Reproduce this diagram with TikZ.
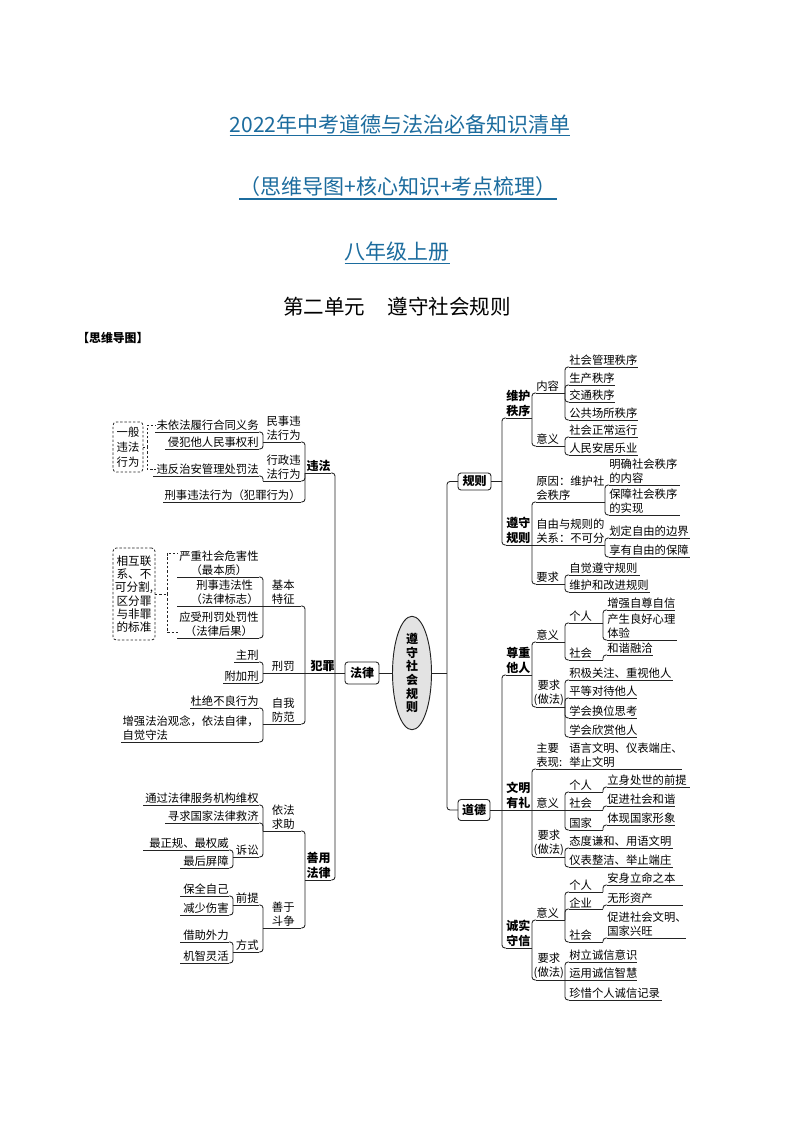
\documentclass[tikz,border=0pt]{standalone}
\usepackage{fontspec}
\setmainfont{Noto Sans CJK SC}
\usetikzlibrary{shapes.geometric}
\definecolor{tblue}{RGB}{28,108,158}
\definecolor{lc}{RGB}{35,35,35}
\newcommand\TopL[6][]{%
  \coordinate (#2-a) at (#3,#5);
  \coordinate (#2-b) at (#4,#5);
  \node[topic,anchor=south east,align=right,#1] (#2) at (#2-b) {#6};
  \draw[ul] (#2-a) -- (#2-b);}
\newcommand\TopR[6][]{%
  \coordinate (#2-a) at (#3,#5);
  \coordinate (#2-b) at (#4,#5);
  \node[topic,anchor=south west,align=left,#1] (#2) at (#2-a) {#6};
  \draw[ul] (#2-a) -- (#2-b);}
\newcommand\ConL[2]{\draw[conn] (#1-a) |- (#2-b);}
\newcommand\ConLs[2]{\draw[conn] (#1-a) -- (#2-b);}
\newcommand\ConR[2]{\draw[conn] (#1-b) |- (#2-a);}
\newcommand\ConRs[2]{\draw[conn] (#1-b) -- (#2-a);}
\tikzset{
  topic/.style={inner xsep=0.3pt, inner ysep=1pt, outer sep=0pt, text=black, font=\fontsize{8.5}{10.5}\selectfont},
  bl/.style={font=\fontsize{9}{11}\selectfont\bfseries},
  ul/.style={draw=lc, line width=0.65pt},
  conn/.style={draw=lc, line width=0.65pt, rounded corners=2.25pt},
  boxn/.style={draw=lc, line width=0.65pt, rounded corners=2.25pt, inner sep=0pt, outer sep=0pt, font=\fontsize{9}{11}\selectfont\bfseries},
  dbox/.style={draw=lc, dash pattern=on 1.8pt off 1.4pt, line width=0.6pt, rounded corners=2.5pt, inner sep=0pt, outer sep=0pt, align=center},
  dconn/.style={draw=lc, dash pattern=on 1.8pt off 1.4pt, line width=0.6pt},
  ttl/.style={inner sep=0pt, outer sep=0pt, text=tblue, font=\fontsize{15.75}{18}\selectfont},
  tul/.style={draw=tblue, line width=1pt}
}
\begin{document}
\begin{tikzpicture}[x=0.75pt,y=-0.75pt]
\useasboundingbox (0,0) rectangle (794,1123);
\fill[white] (0,0) rectangle (794,1123);

% titles
\node[ttl] (t1) at (400,124) {2022年中考道德与法治必备知识清单};
\draw[tul] ([yshift=-1.4pt]t1.south west) -- ([yshift=-1.4pt]t1.south east);
\node[ttl] (t2) at (398,187) {（思维导图+核心知识+考点梳理）};
\draw[tul] ([yshift=-1.4pt]t2.south west) -- ([yshift=-1.4pt]t2.south east);
\node[ttl] (t3) at (397,252) {八年级上册};
\draw[tul] ([yshift=-1.4pt]t3.south west) -- ([yshift=-1.4pt]t3.south east);
\node[inner sep=0pt, font=\fontsize{15.4}{18}\selectfont] (unit) at (397,307) {第二单元\hspace*{1.1em}遵守社会规则};
\node[inner sep=0pt, anchor=west, font=\fontsize{8.9}{10}\selectfont\bfseries] (mm) at (77,338) {【思维导图】};

% centre
\node[ellipse, draw=lc, line width=0.7pt, fill=black!11, minimum width=29.25pt, minimum height=81pt, inner sep=0pt, align=center, font=\fontsize{9}{10.3}\selectfont\bfseries] (ctr) at (412,673) {遵\\守\\社\\会\\规\\则};
\node[boxn, minimum width=25.5pt, minimum height=16.5pt] (falv) at (362,673) {法律};
\node[boxn, minimum width=24.75pt, minimum height=12.75pt] (guize) at (474.5,481.5) {规则};
\node[boxn, minimum width=24pt, minimum height=15.75pt] (daode) at (474,810) {道德};
\draw[conn] (falv.east) -- (ctr.west);
\coordinate (rtr) at (447,673);
\draw[conn] (ctr.east) -- (rtr);
\draw[conn] (rtr) |- (guize.west);
\draw[conn] (rtr) |- (daode.west);

% ---------- left: 违法 ----------
\TopL[bl]{weifa}{305}{331}{473}{违法}
\TopL[align=center]{minshi}{263}{301}{442}{民事违\\法行为}
\TopL[align=center]{xingzheng}{263}{301}{481}{行政违\\法行为}
\TopL{xingshi}{163}{301}{502}{刑事违法行为（犯罪行为）}
\TopL{weiyi}{155}{259}{432}{未依法履行合同义务}
\TopL{qinfan}{165}{259}{449}{侵犯他人民事权利}
\TopL{weifan}{153}{259}{476}{违反治安管理处罚法}
\ConL{weifa}{minshi}\ConL{weifa}{xingzheng}\ConL{weifa}{xingshi}
\ConL{minshi}{weiyi}\ConL{minshi}{qinfan}\ConL{xingzheng}{weifan}
\node[dbox, minimum width=22.5pt, minimum height=37.5pt, font=\fontsize{8.5}{11.4}\selectfont] (box1) at (128,447) {一般\\违法\\行为};
\coordinate (d1) at (147,447);
\draw[dconn] (box1.east) -- (d1);
\draw[dconn] (d1) |- (weiyi.west);
\draw[dconn] (d1) |- (weifan.west);

% ---------- left: 犯罪 ----------
\TopL[bl]{fanzui}{305}{335}{673}{犯罪}
\TopL[align=center,xshift=-4.5pt]{jiben}{263}{301}{606}{基本\\特征}
\TopL[xshift=-4.5pt]{xingfa}{263}{301}{673}{刑罚}
\TopL[align=center,xshift=-4.5pt]{ziwo}{263}{301}{724}{自我\\防范}
\TopL[align=center]{yanzhong}{177}{259}{577}{严重社会危害性\\（最本质）}
\TopL[align=center]{xsx}{177}{259}{606}{刑事违法性\\（法律标志）}
\TopL[align=center]{yingshou}{177}{259}{638}{应受刑罚处罚性\\（法律后果）}
\TopL{zhuxing}{234}{259}{662}{主刑}
\TopL{fujia}{223}{259}{683}{附加刑}
\TopL{dujue}{190}{259}{708}{杜绝不良行为}
\TopL[align=left]{zengq}{121}{259}{742}{增强法治观念，依法自律，\\自觉守法}
\ConL{fanzui}{jiben}\ConLs{fanzui}{xingfa}\ConL{fanzui}{ziwo}
\ConL{jiben}{yanzhong}\ConLs{jiben}{xsx}\ConL{jiben}{yingshou}
\ConL{xingfa}{zhuxing}\ConL{xingfa}{fujia}
\ConL{ziwo}{dujue}\ConL{ziwo}{zengq}
\node[dbox, minimum width=31.5pt, minimum height=69pt, font=\fontsize{8.7}{10}\selectfont] (box2) at (134,594) {相互联\\系、不\\可分割,\\区分罪\\与非罪\\的标准};
\coordinate (d2) at (167,594);
\coordinate (d2a) at (178,553);
\coordinate (d2b) at (178,632);
\draw[dconn] (box2.east) -- (d2);
\draw[dconn] (d2) |- (d2a);
\draw[dconn] (d2) |- (d2b);

% ---------- left: 善用法律 ----------
\TopL[bl,align=center]{shanyong}{305}{331}{880}{善用\\法律}
\TopL[align=center,xshift=-4.5pt]{yifa}{263}{301}{831}{依法\\求助}
\TopL[align=center,xshift=-4.5pt]{shanyu}{263}{301}{928}{善于\\斗争}
\TopL{tongguo}{143}{259}{805}{通过法律服务机构维权}
\TopL{xunqiu}{165}{259}{823}{寻求国家法律救济}
\TopL{susong}{233}{259}{857}{诉讼}
\TopL{zuizheng}{143}{229}{850}{最正规、最权威}
\TopL{zuihou}{180}{229}{868}{最后屏障}
\TopL{qianti}{233}{259}{905}{前提}
\TopL{fangshi}{233}{259}{952}{方式}
\TopL{baoquan}{180}{229}{896}{保全自己}
\TopL{jianshao}{180}{229}{915}{减少伤害}
\TopL{jiezhu}{180}{229}{942}{借助外力}
\TopL{jizhi}{180}{229}{963}{机智灵活}
\ConL{shanyong}{yifa}\ConL{shanyong}{shanyu}
\ConL{yifa}{tongguo}\ConL{yifa}{xunqiu}\ConL{yifa}{susong}
\ConL{susong}{zuizheng}\ConL{susong}{zuihou}
\ConL{shanyu}{qianti}\ConL{shanyu}{fangshi}
\ConL{qianti}{baoquan}\ConL{qianti}{jianshao}
\ConL{fangshi}{jiezhu}\ConL{fangshi}{jizhi}

% left trunk
\coordinate (ltr) at (335,673);
\draw[conn] (ltr) |- (weifa-b);
\draw[conn] (ltr) |- (shanyong-b);
\draw[conn] (falv.west) -- (fanzui-b);

% ---------- right: 规则 ----------
\coordinate (gtr) at (502,481.5);
\draw[conn] (guize.east) -- (gtr);
\TopR[bl]{weihu}{506}{532}{418}{维护\\秩序}
\TopR[bl]{zunshou}{506}{532}{545}{遵守\\规则}
\draw[conn] (gtr) |- (weihu-a);
\draw[conn] (gtr) |- (zunshou-a);
\TopR{neirong}{536}{565}{393}{内容}
\TopR{yiyi1}{536}{565}{446}{意义}
\TopR{shgl}{569}{638}{367}{社会管理秩序}
\TopR{shch}{569}{615}{385}{生产秩序}
\TopR{jtzx}{569}{615}{402}{交通秩序}
\TopR{ggcs}{569}{638}{420}{公共场所秩序}
\TopR{shzc}{569}{638}{437}{社会正常运行}
\TopR{rmaj}{569}{638}{455}{人民安居乐业}
\ConR{weihu}{neirong}\ConR{weihu}{yiyi1}
\ConR{neirong}{shgl}\ConR{neirong}{shch}\ConR{neirong}{jtzx}\ConR{neirong}{ggcs}
\ConR{yiyi1}{shzc}\ConR{yiyi1}{rmaj}
\TopR{yuanyin}{536}{605}{502}{原因：维护社\\会秩序}
\TopR{ziyou}{536}{605}{545}{自由与规则的\\关系：不可分}
\TopR{yqa}{536}{565}{584}{要求}
\TopR{mingque}{609}{680}{485}{明确社会秩序\\的内容}
\TopR{baozhang}{609}{680}{515}{保障社会秩序\\的实现}
\TopR{huading}{609}{690}{538}{划定自由的边界}
\TopR{xiangyou}{609}{690}{557}{享有自由的保障}
\TopR{zijue}{569}{640}{575}{自觉遵守规则}
\TopR{weigj}{569}{650}{592}{维护和改进规则}
\ConR{zunshou}{yuanyin}\ConRs{zunshou}{ziyou}\ConR{zunshou}{yqa}
\ConR{yuanyin}{mingque}\ConR{yuanyin}{baozhang}
\ConR{ziyou}{huading}\ConR{ziyou}{xiangyou}
\ConR{yqa}{zijue}\ConR{yqa}{weigj}

% ---------- right: 道德 ----------
\coordinate (dtr) at (502,810);
\TopR[bl]{zunzhong}{506}{532}{675}{尊重\\他人}
\TopR[bl]{wenming}{506}{532}{810}{文明\\有礼}
\TopR[bl]{chengshi}{506}{532}{948}{诚实\\守信}
\draw[conn] (daode.east) -- (wenming-a);
\draw[conn] (dtr) |- (zunzhong-a);
\draw[conn] (dtr) |- (chengshi-a);
% 尊重他人
\TopR{yiyib}{536}{565}{642}{意义}
\TopR[align=center,xshift=-2pt]{yqb}{536}{565}{707}{要求\\(做法)}
\TopR{grb}{569}{603}{623}{个人}
\TopR{shb}{569}{603}{660}{社会}
\TopR{zzzx}{607}{675}{610}{增强自尊自信}
\TopR{cslh}{607}{677}{640}{产生良好心理\\体验}
\TopR{hxrq}{607}{653}{655}{和谐融洽}
\TopR{jjgz}{569}{673}{680}{积极关注、重视他人}
\TopR{pddd}{569}{637}{698}{平等对待他人}
\TopR{xhhw}{569}{637}{718}{学会换位思考}
\TopR{xhxs}{569}{637}{737}{学会欣赏他人}
\ConR{zunzhong}{yiyib}\ConR{zunzhong}{yqb}
\ConR{yiyib}{grb}\ConR{yiyib}{shb}
\ConR{grb}{zzzx}\ConR{grb}{cslh}\ConR{shb}{hxrq}
\ConR{yqb}{jjgz}\ConR{yqb}{pddd}\ConR{yqb}{xhhw}\ConR{yqb}{xhxs}
% 文明有礼
\TopR{zybx}{536}{565}{769}{主要\\表现:}
\TopR{yywm}{569}{682}{769}{语言文明、仪表端庄、\\举止文明}
\TopR{yiyic}{536}{565}{810}{意义}
\TopR[align=center,xshift=-2pt]{yqc}{536}{565}{857}{要求\\(做法)}
\TopR{grc}{569}{603}{792}{个人}
\TopR{shc}{569}{603}{810}{社会}
\TopR{gjc}{569}{603}{830}{国家}
\TopR{lscs}{607}{690}{787}{立身处世的前提}
\TopR{cjhx}{607}{675}{806}{促进社会和谐}
\TopR{txgj}{607}{675}{825}{体现国家形象}
\TopR{tdqh}{569}{673}{848}{态度谦和、用语文明}
\TopR{ybzj}{569}{673}{867}{仪表整洁、举止端庄}
\ConR{wenming}{zybx}\ConRs{wenming}{yiyic}\ConR{wenming}{yqc}
\ConRs{zybx}{yywm}
\ConR{yiyic}{grc}\ConRs{yiyic}{shc}\ConR{yiyic}{gjc}
\ConR{grc}{lscs}\ConR{shc}{cjhx}\ConR{gjc}{txgj}
\ConR{yqc}{tdqh}\ConR{yqc}{ybzj}
% 诚实守信
\TopR{yiyid}{536}{565}{920}{意义}
\TopR[align=center,xshift=-2pt]{yqd}{536}{565}{980}{要求\\(做法)}
\TopR{grd}{569}{603}{892}{个人}
\TopR{qyd}{569}{603}{909}{企业}
\TopR{shd}{569}{603}{942}{社会}
\TopR{aslm}{607}{683}{885}{安身立命之本}
\TopR{wxzc}{607}{683}{905}{无形资产}
\TopR{cjwm}{607}{686}{938}{促进社会文明、\\国家兴旺}
\TopR{slcx}{569}{637}{962}{树立诚信意识}
\TopR{yycx}{569}{637}{980}{运用诚信智慧}
\TopR{zxgr}{569}{662}{1000}{珍惜个人诚信记录}
\ConR{chengshi}{yiyid}\ConR{chengshi}{yqd}
\ConR{yiyid}{grd}\ConR{yiyid}{qyd}\ConR{yiyid}{shd}
\ConR{grd}{aslm}\ConR{qyd}{wxzc}\ConR{shd}{cjwm}
\ConR{yqd}{slcx}\ConRs{yqd}{yycx}\ConR{yqd}{zxgr}
\end{tikzpicture}
\end{document}
